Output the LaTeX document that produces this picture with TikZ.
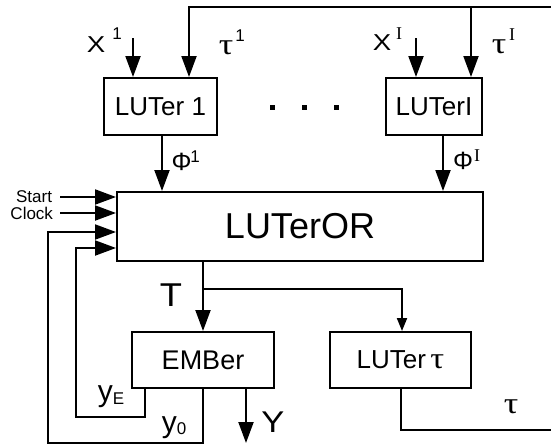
\documentclass[tikz,border=0pt]{standalone}
\usepackage{graphicx}
\usepackage{fontspec}
\setmainfont{Liberation Sans}
\newfontfamily\seriffont{Liberation Serif}
\usetikzlibrary{arrows.meta}
\newcommand\myfs[1]{\fontsize{#1}{#1}\selectfont}
\newcommand\wide[2]{\scalebox{#1}[1]{#2}}
\begin{document}
\begin{tikzpicture}[x=1pt,y=-1pt,line width=2pt,
  box/.style={draw,line width=2pt,inner sep=0pt,font=\myfs{26}},
  arr/.style={-{Triangle[length=21pt,width=15pt]}},
  arrs/.style={-{Triangle[length=13pt,width=10pt]}},
  lbl/.style={inner sep=0pt},
  sansl/.style={lbl,font=\myfs{23}},
  supl/.style={lbl,font=\myfs{17}},
  serl/.style={lbl,font=\seriffont\myfs{30}},
  sersup/.style={lbl,font=\seriffont\myfs{18}},
  dotsq/.style={fill=black,draw=none}]
\useasboundingbox (0,0) rectangle (551,445);
% boxes
\node[box,minimum width=113pt,minimum height=57pt] (l1) at (160.5,106.5) {LUTer 1};
\node[box,minimum width=96pt,minimum height=57pt] (lI) at (434,106.5) {LUTerI};
\node[box,minimum width=366pt,minimum height=69pt,font=\myfs{36}] (or) at (300,226.5) {LUTerOR};
\node[box,minimum width=142pt,minimum height=56pt,font=\myfs{27}] (em) at (203,360) {EMBer};
\node[box,minimum width=141pt,minimum height=56pt] (lt) at (400.5,360) {LUTer\,{\seriffont\myfs{30}\wide{1.15}{τ}}};
% dots
\fill[dotsq] (269.5,104.5) rectangle ++(5,5);
\fill[dotsq] (301.5,104.5) rectangle ++(5,5);
\fill[dotsq] (333.5,104.5) rectangle ++(5,5);
% coordinates
\coordinate (x1) at (133,38);
\coordinate (t1) at (189,7);
\coordinate (tR) at (551,7);
\coordinate (xI) at (416,38);
\coordinate (tI) at (471,7);
\coordinate (p1) at (162,0);
\coordinate (pI) at (443,0);
\coordinate (st) at (60,197);
\coordinate (ck) at (60,213);
\coordinate (f0) at (48,443);
\coordinate (g0) at (48,232);
\coordinate (eE) at (145,0);
\coordinate (fE) at (76,417);
\coordinate (gE) at (76,248);
\coordinate (br) at (203,289);
\coordinate (bt) at (402,289);
\coordinate (yv) at (246,443);
\coordinate (tb) at (401,430);
\coordinate (tbR) at (551,430);
% connectors
\draw[arr] (x1) -- (x1 |- l1.north);
\draw[arr] (tR) -- (t1) -- (t1 |- l1.north);
\draw[arr] (xI) -- (xI |- lI.north);
\draw[arr] (tI) -- (tI |- lI.north);
\draw[arr] (l1.south -| p1) -- (or.north -| p1);
\draw[arr] (lI.south -| pI) -- (or.north -| pI);
\draw[arr] (st) -- (st -| or.west);
\draw[arr] (ck) -- (ck -| or.west);
\draw[arr] (em.south) -- (em.south |- f0) -- (f0) -- (g0) -- (g0 -| or.west);
\draw[arr] (em.south -| eE) -- (eE |- fE) -- (fE) -- (gE) -- (gE -| or.west);
\draw[arr] (or.south -| em.north) -- (em.north);
\draw[arrs] (br) -- (bt) -- (bt |- lt.north);
\draw[arr] (em.south -| yv) -- (yv);
\draw (lt.south -| tb) -- (tb) -- (tbR);
% labels
\node[sansl] (lx1) at (96,45) {\wide{1.2}{X}};
\node[supl] (lx1s) at (117,34) {1};
\node[serl] (lt1) at (226,48) {\wide{1.2}{τ}};
\node[supl] (lt1s) at (240,36) {1};
\node[sansl] (lxI) at (382,43) {\wide{1.2}{X}};
\node[sersup] (lxIs) at (399,34) {I};
\node[serl] (ltI) at (499,47) {\wide{1.2}{τ}};
\node[sersup] (ltIs) at (512,35) {I};
\node[lbl,font=\myfs{25}] (lp1) at (181.5,162) {Φ};
\node[supl] (lp1s) at (195,157) {1};
\node[lbl,font=\myfs{25}] (lpI) at (463,161) {Φ};
\node[sersup] (lpIs) at (477,156) {I};
\node[lbl,font=\myfs{17},anchor=east] (lst) at (53,197) {Start};
\node[lbl,font=\myfs{17},anchor=east] (lck) at (54,213) {Clock};
\node[lbl,font=\myfs{33}] (lT) at (171,295) {\wide{1.1}{T}};
\node[lbl,font=\myfs{30}] (lY) at (273,422.5) {\wide{1.15}{Y}};
\node[lbl,font=\myfs{30}] (lyE) at (111,397) {y\raisebox{-3pt}{\myfs{17}E}};
\node[lbl,font=\myfs{30}] (ly0) at (174,428) {y\raisebox{-2pt}{\myfs{17}0}};
\node[serl] (ltb) at (511,407) {\wide{1.2}{τ}};
\end{tikzpicture}
\end{document}
